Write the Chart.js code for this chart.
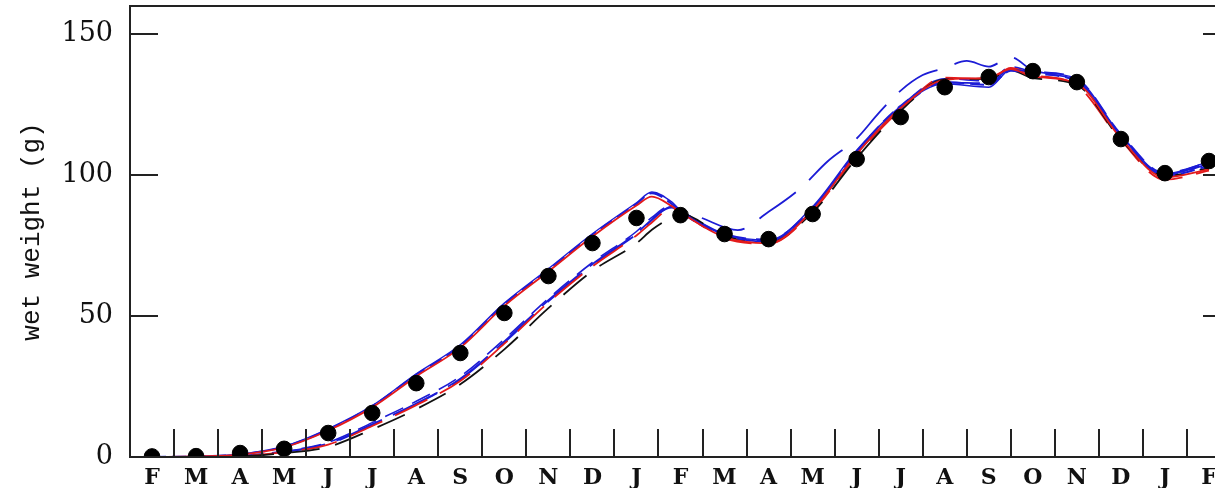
<!DOCTYPE html>
<html>
<head>
<meta charset="utf-8">
<script src="https://cdn.jsdelivr.net/npm/chart.js@4.4.1/dist/chart.umd.min.js"></script>
<style>
  html, body { margin: 0; padding: 0; overflow: hidden; background: #fff; width: 1215px; height: 488px; }
  #wrap { position: absolute; left: 0; top: 0; width: 1240px; height: 488px; }
</style>
</head>
<body>
<div id="wrap"><canvas id="c" width="1240" height="488"></canvas></div>
<script>
// Month letters, one per month index (0 = first February)
const monthLetters = ['F','M','A','M','J','J','A','S','O','N','D','J','F','M','A','M','J','J','A','S','O','N','D','J','F'];
const weightTicks = [0, 50, 100, 150];

// Observed mean wet weight (g), one value per month
const observedWeight = [0.2, 0.3, 1.4, 2.9, 8.5, 15.6, 26.2, 36.9, 51.1, 64.2, 75.9, 84.8, 85.8,
                        79.1, 77.3, 86.2, 105.7, 120.6, 131.2, 134.8, 136.9, 133.0, 112.8, 100.7, 105.0];

// Time grid (month index) shared by the model runs
const runMonths = [0,1,2,3,4,5,6,7,8,9,10,11,11.35,11.8,12,13,14,15,16,17,18,19,19.5,20,21,22,23,24];

// Early-spawning runs
const runEarlyRed   = [0,0.2,0.8,3.4,9.4,17.6,28.6,38.8,53.6,65.8,78.2,89.2,92.4,89.0,86.8,78.0,75.8,87.6,107.5,123.8,133.8,134.6,137.6,135.0,132.5,113.0,99.2,102.0];
const runEarlyBlueA = [0,0.2,0.9,3.6,9.7,18.0,29.2,39.3,54.2,66.3,78.8,89.8,93.6,89.8,87.0,78.6,76.6,88.2,108.4,124.6,133.0,132.0,137.0,136.0,133.2,113.8,99.8,103.2];
const runEarlyBlueB = [0,0.3,1.0,3.8,10.0,18.2,29.5,39.8,54.6,66.8,79.2,90.2,94.0,90.5,87.4,79.0,77.0,88.8,108.8,124.2,132.4,131.2,137.4,136.6,134.0,114.2,100.5,104.8];

// Late-spawning runs
const runLateBlack  = [0,0,0.2,1.4,3.6,9.8,17.0,25.8,38.2,52.8,66.0,75.8,80.6,85.0,86.2,78.4,76.2,86.8,106.0,122.8,134.0,134.2,137.2,134.4,132.0,112.6,99.6,102.6];
const runLateRed    = [0,0,0.3,1.7,4.4,11.0,18.4,27.0,40.2,54.8,67.6,78.6,83.2,88.2,86.8,77.6,75.6,87.2,107.0,123.2,134.6,134.0,138.0,135.6,131.8,112.4,98.4,101.6];
const runLateBlueA  = [0,0,0.3,1.9,4.8,11.6,19.0,27.8,41.0,55.6,68.4,79.4,84.2,88.8,87.2,78.8,76.4,87.6,107.6,123.6,132.8,132.6,137.8,136.2,133.6,113.6,100.0,104.0];
const runLateBlueB  = [0,0,0.4,2.1,5.2,12.2,19.8,28.6,41.8,56.2,69.0,80.0,85.0,89.2,87.4,79.2,77.2,88.4,108.2,124.4,134.2,133.4,138.4,136.8,134.2,114.6,100.8,104.6];

// Run that grows faster during the second spring
const fastRunMonths = [0,1,2,3,4,5,6,7,8,9,10,11,11.8,12,12.45,13.3,14,14.7,15.35,16,16.5,17,17.5,18,18.5,19,19.5,20,21,22,23,24];
const fastRunWeight = [0,0,0.3,1.8,4.6,11.3,18.8,27.5,40.6,55.2,68.0,79.0,88.5,87.5,85.0,80.5,87.0,95.0,105.0,113.0,122.0,130.0,135.5,138.0,140.5,138.5,141.8,137.2,133.4,114.0,100.2,104.2];

const toPoints = (xs, ys) => xs.map((x, i) => ({ x, y: ys[i] }));

const RED = '#e31b1b';
const BLUE = '#1c1cd6';
const BLACK = '#111';

function run(xs, ys, color, dash, width) {
  return {
    data: toPoints(xs, ys),
    borderColor: color,
    borderWidth: width,
    borderDash: dash,
    pointRadius: 0,
    showLine: true,
    fill: false,
    cubicInterpolationMode: 'monotone'
  };
}

const monthBounds = monthLetters.slice(1).map((_, i) => i + 0.5);

// Drop the half-label padding Chart.js reserves at the scale ends
function noEndPadding(s) {
  s.paddingTop = 0; s.paddingBottom = 0; s.paddingLeft = 0; s.paddingRight = 0;
}

const framePlugin = {
  id: 'frame',
  afterDatasetsDraw(chart) {
    const { ctx, chartArea: a, scales: { x, y } } = chart;
    ctx.save();
    ctx.strokeStyle = '#222';
    ctx.lineWidth = 2;
    ctx.strokeRect(a.left, a.top, a.right - a.left, a.bottom - a.top);
    ctx.beginPath();
    for (const b of monthBounds) {
      const px = Math.round(x.getPixelForValue(b));
      ctx.moveTo(px, a.bottom);
      ctx.lineTo(px, a.bottom - 28);
    }
    for (const v of weightTicks) {
      const py = Math.round(y.getPixelForValue(v));
      ctx.moveTo(a.left, py); ctx.lineTo(a.left + 28, py);
      ctx.moveTo(a.right, py); ctx.lineTo(a.right - 28, py);
    }
    ctx.stroke();
    ctx.restore();
  }
};

new Chart(document.getElementById('c'), {
  type: 'scatter',
  data: {
    datasets: [
      {
        data: observedWeight.map((v, i) => ({ x: i, y: v })),
        backgroundColor: '#000',
        borderColor: '#000',
        pointRadius: 7.8,
        showLine: false,
        clip: 0
      },
      run(runMonths, runEarlyRed, RED, [], 1.8),
      run(runMonths, runEarlyBlueA, BLUE, [14, 6], 2),
      run(runMonths, runEarlyBlueB, BLUE, [], 1.4),
      run(runMonths, runLateBlack, BLACK, [30, 16], 1.8),
      run(runMonths, runLateRed, RED, [36, 14], 1.8),
      run(runMonths, runLateBlueA, BLUE, [50, 12], 1.8),
      run(runMonths, runLateBlueB, BLUE, [20, 10], 1.6),
      run(fastRunMonths, fastRunWeight, BLUE, [45, 18], 1.8)
    ]
  },
  options: {
    responsive: false,
    devicePixelRatio: 1,
    animation: false,
    layout: { autoPadding: false, padding: { top: 6, right: 9, left: 0, bottom: 0 } },
    plugins: { legend: { display: false }, tooltip: { enabled: false } },
    scales: {
      x: {
        type: 'linear',
        min: -0.5,
        max: 24.5,
        grid: { display: false, drawTicks: false },
        border: { display: false },
        afterBuildTicks: (s) => { s.ticks = monthLetters.map((_, i) => ({ value: i })); },
        afterFit: (s) => { s.height = 31; noEndPadding(s); },
        ticks: {
          autoSkip: false,
          maxRotation: 0,
          padding: 8,
          color: '#111',
          font: { family: 'DejaVu Serif', size: 22, weight: 'bold' },
          callback: (v) => monthLetters[v]
        }
      },
      y: {
        min: 0,
        max: 160,
        grid: { display: false, drawTicks: false },
        border: { display: false },
        afterBuildTicks: (s) => { s.ticks = weightTicks.map(v => ({ value: v })); },
        afterFit: (s) => { s.width = 130; noEndPadding(s); },
        ticks: {
          padding: 17,
          color: '#111',
          font: { family: 'DejaVu Serif', size: 27 }
        },
        title: {
          display: true,
          text: 'wet weight (g)',
          color: '#111',
          padding: { top: 17, bottom: 0 },
          font: { family: 'Liberation Mono', size: 26, lineHeight: 1.2 }
        }
      }
    }
  },
  plugins: [framePlugin]
});
</script>
</body>
</html>
